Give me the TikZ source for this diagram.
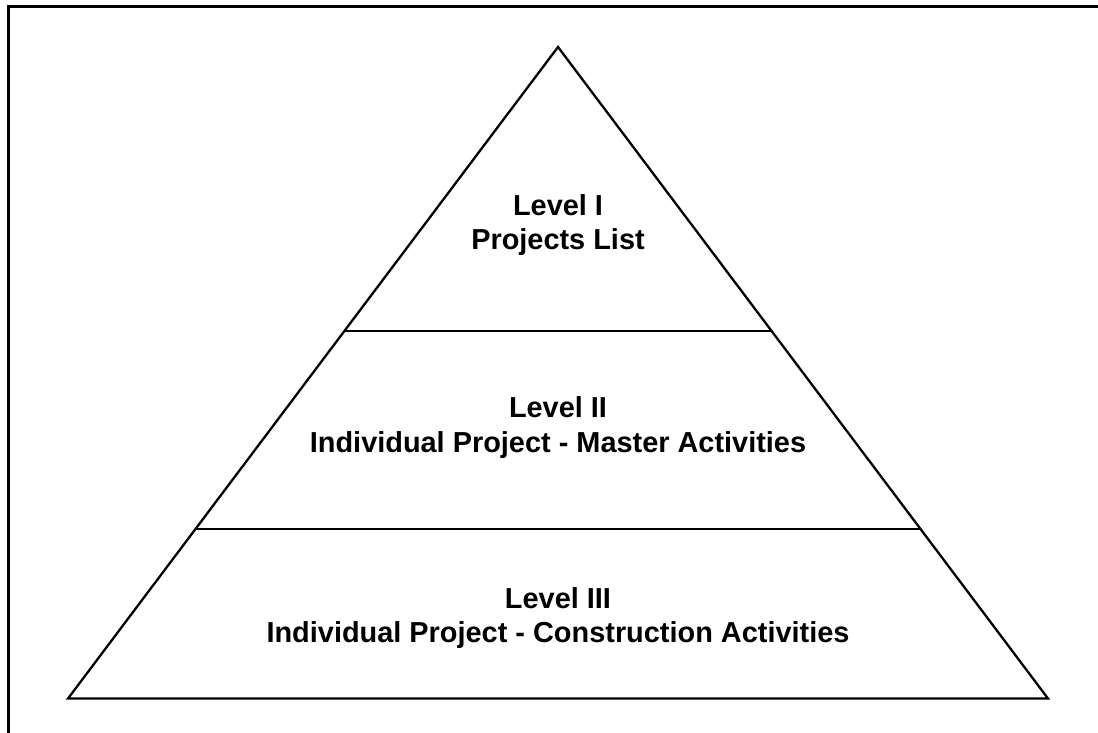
\documentclass[tikz,border=0pt]{standalone}
\usepackage{fontspec}
\setmainfont{Liberation Sans}
\usetikzlibrary{calc}
\begin{document}
\begin{tikzpicture}[x=1pt,y=-1pt,
  frameline/.style={line width=3pt,line cap=rect},
  pyrline/.style={line width=2.3pt,line join=miter},
  divline/.style={line width=2.3pt},
  lbl/.style={anchor=base,inner sep=0pt,font=\fontsize{28.9}{35}\selectfont\bfseries}]
\useasboundingbox (0,0) rectangle (1098,732);
\fill[white] (0,0) rectangle (1098,732);
% frame (only top and left edges visible)
\coordinate (fbl) at (8,740);
\coordinate (ftl) at (8,6);
\coordinate (ftr) at (1110,6);
\draw[frameline] (fbl) -- (ftl) -- (ftr);
% pyramid
\coordinate (apex) at (558,47);
\coordinate (bl) at (68,698.5);
\coordinate (br) at (1048,698.5);
\draw[pyrline] (apex) -- (bl) -- (br) -- cycle;
% dividers
\coordinate (d1l) at ($(apex)!{(331-47)/651.5}!(bl)$);
\coordinate (d1r) at ($(apex)!{(331-47)/651.5}!(br)$);
\coordinate (d2l) at ($(apex)!{(529-47)/651.5}!(bl)$);
\coordinate (d2r) at ($(apex)!{(529-47)/651.5}!(br)$);
\draw[divline] (d1l) -- (d1r);
\draw[divline] (d2l) -- (d2r);
% labels
\node[lbl] (l1a) at (558,215) {Level I};
\node[lbl] (l1b) at (558,249) {Projects List};
\node[lbl] (l2a) at (558,417) {Level II};
\node[lbl] (l2b) at (558,452) {Individual Project - Master Activities};
\node[lbl] (l3a) at (558,608) {Level III};
\node[lbl] (l3b) at (558,642) {Individual Project - Construction Activities};
\end{tikzpicture}
\end{document}
